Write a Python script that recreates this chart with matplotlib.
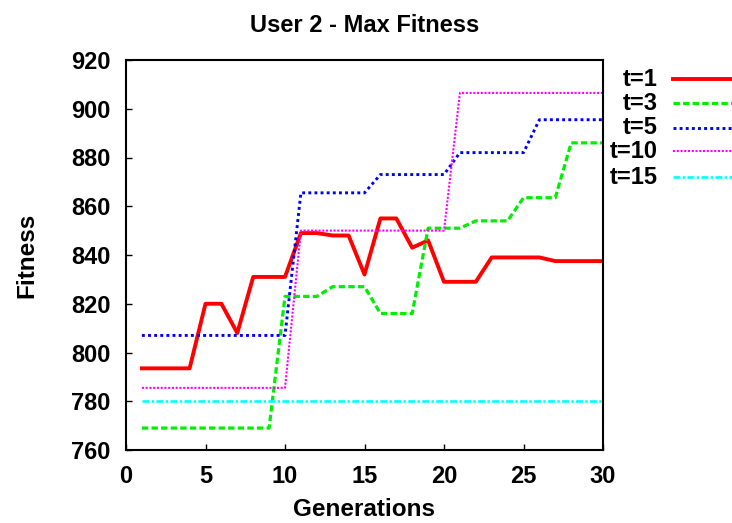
import matplotlib
matplotlib.use("Agg")
import matplotlib.pyplot as plt
from matplotlib.lines import Line2D

plt.rcParams["font.family"] = ["Liberation Sans", "DejaVu Sans"]
plt.rcParams["font.weight"] = "bold"

generations = list(range(1, 31))

t1 = [793.5, 793.5, 793.5, 793.5, 820, 820, 808, 831, 831, 831,
      849, 849, 848, 848, 832, 855, 855, 843, 846, 829,
      829, 829, 839, 839, 839, 839, 837.5, 837.5, 837.5, 837.5]
t3 = [769, 769, 769, 769, 769, 769, 769, 769, 769, 823,
      823, 823, 827, 827, 827, 816, 816, 816, 851, 851,
      851, 854, 854, 854, 863.5, 863.5, 863.5, 886, 886, 886]
t5 = [807, 807, 807, 807, 807, 807, 807, 807, 807, 807,
      865.5, 865.5, 865.5, 865.5, 865.5, 873, 873, 873, 873, 873,
      882, 882, 882, 882, 882, 895.5, 895.5, 895.5, 895.5, 895.5]
t10 = [785.5, 785.5, 785.5, 785.5, 785.5, 785.5, 785.5, 785.5, 785.5, 785.5,
       850, 850, 850, 850, 850, 850, 850, 850, 850, 850,
       906.5, 906.5, 906.5, 906.5, 906.5, 906.5, 906.5, 906.5, 906.5, 906.5]
t15 = [780, 780, 780, 780, 780, 780, 780, 780, 780, 780,
       780, 780, 780, 780, 780, 780, 780, 780, 780, 780,
       780, 780, 780, 780, 780, 780, 780, 780, 780, 780]

labels = ["t=1", "t=3", "t=5", "t=10", "t=15"]
xticks = [0, 5, 10, 15, 20, 25, 30]
yticks = [760, 780, 800, 820, 840, 860, 880, 900, 920]

series = [t1, t3, t5, t10, t15]
styles = [
    dict(color="#ff0000", lw=2.8, linestyle="-"),
    dict(color="#00ee00", lw=2.3, dashes=(2, 1)),
    dict(color="#0000ff", lw=2.1, dashes=(1, 1.1)),
    dict(color="#ff00ff", lw=1.5, dashes=(1, 0.8)),
    dict(color="#00ffff", lw=1.9, dashes=(2.6, 0.9, 0.9, 0.9)),
]

fig = plt.figure(figsize=(7.32, 5.23), dpi=100)
ax = fig.add_axes([126 / 732, 73 / 523, 477 / 732, 390 / 523])

for ys, st in zip(series, styles):
    ax.plot(generations, ys, **st)

ax.set_xlim(0, 30)
ax.set_ylim(760, 920)
ax.set_xticks(xticks)
ax.set_yticks(yticks)
ax.tick_params(direction="in", length=4, width=1, labelsize=17, pad=11,
               top=False, right=False)
for s in ax.spines.values():
    s.set_linewidth(1.5)

ax.set_title("User 2 - Max Fitness", fontsize=17, fontweight="bold", pad=20)
ax.set_xlabel("Generations", fontsize=17.5, fontweight="bold", labelpad=7)
ax.set_ylabel("Fitness", fontsize=17.5, fontweight="bold", labelpad=24)

# legend drawn by hand, labels right aligned
rows = [79, 103, 127.5, 151, 177]
for lab, st, y in zip(labels, styles, rows):
    fy = 1 - y / 523
    fig.text(658 / 732, fy, lab, ha="right", va="center", fontsize=17,
             fontweight="bold")
    fig.add_artist(Line2D([673 / 732, 732 / 732], [fy, fy],
                          transform=fig.transFigure, **st))

fig.savefig("out.png", dpi=100)
